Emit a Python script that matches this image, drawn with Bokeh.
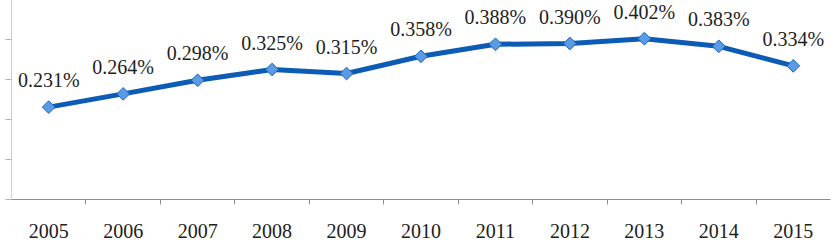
import math
from bokeh.plotting import figure
from bokeh.models import (ColumnDataSource, Range1d, FixedTicker, LinearAxis,
                          LabelSet, CustomJSTickFormatter)
from bokeh.embed import file_html
from bokeh.resources import INLINE

years = [2005, 2006, 2007, 2008, 2009, 2010, 2011, 2012, 2013, 2014, 2015]
shares = [0.231, 0.264, 0.298, 0.325, 0.315, 0.358, 0.388, 0.390, 0.402, 0.383, 0.334]
labels = [f"{v:.3f}%" for v in shares]
y_ticks = [0.0, 0.1, 0.2, 0.3, 0.4]

src = ColumnDataSource(dict(x=years, y=shares, label=labels))

p = figure(width=831, height=241, output_backend="svg", toolbar_location=None,
           title=None, x_range=Range1d(years[0] - 0.5, years[-1] + 0.5),
           y_range=Range1d(0, 0.4975), x_axis_location=None, y_axis_location=None,
           min_border_left=11, min_border_right=1, min_border_top=0, min_border_bottom=42)
p.outline_line_color = None
p.grid.visible = False
p.background_fill_color = "white"
p.border_fill_color = "white"

yaxis = LinearAxis(ticker=FixedTicker(ticks=y_ticks),
                   formatter=CustomJSTickFormatter(code="return ''"))
yaxis.major_tick_out = 6
yaxis.major_tick_in = 0
yaxis.minor_tick_out = 0
yaxis.minor_tick_in = 0
yaxis.major_label_standoff = 0
yaxis.axis_line_color = "#cfcfcf"
yaxis.major_tick_line_color = "#b0b0b0"
p.add_layout(yaxis, "left")

xaxis = LinearAxis(ticker=FixedTicker(ticks=years,
                                      minor_ticks=[y + 0.5 for y in years[:-1]]))
xaxis.major_label_overrides = {y: str(y) for y in years}
xaxis.major_tick_out = 0
xaxis.major_tick_in = 0
xaxis.minor_tick_out = 5
xaxis.minor_tick_in = 0
xaxis.major_label_standoff = 19
xaxis.axis_line_color = "#8c8c8c"
xaxis.minor_tick_line_color = "#8c8c8c"
xaxis.major_label_text_font = "Liberation Serif"
xaxis.major_label_text_font_size = "20px"
xaxis.major_label_text_color = "#202020"
p.add_layout(xaxis, "below")

p.line("x", "y", source=src, line_color="#0c5bb4", line_width=5)
p.scatter("x", "y", source=src, marker="square", angle=math.pi / 4, size=9,
          fill_color="#5b9ae4", line_color="#1f65bd", line_width=1)

lbl = LabelSet(x="x", y="y", text="label", source=src, y_offset=20,
               text_align="center", text_baseline="alphabetic",
               text_font="Liberation Serif", text_font_size="20px",
               text_color="#1e1e1e")
p.add_layout(lbl)

open("out.html", "w").write(file_html(p, INLINE))
